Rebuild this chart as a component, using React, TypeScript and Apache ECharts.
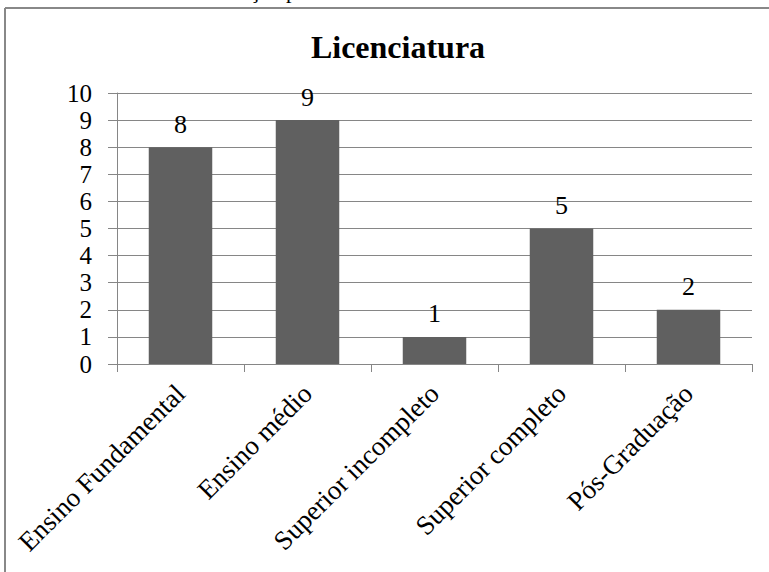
import React, { useEffect, useRef } from "react";
import * as echarts from "echarts";

const categories = [
  "Ensino Fundamental",
  "Ensino médio",
  "Superior incompleto",
  "Superior completo",
  "Pós-Graduação",
];
const values = [8, 9, 1, 5, 2];
const titleText = "Licenciatura";

const SERIF = '"Liberation Serif", "Times New Roman", serif';

export default function App() {
  const ref = useRef<HTMLDivElement>(null);
  useEffect(() => {
    if (!ref.current) return;
    const chart = echarts.init(ref.current, undefined, { renderer: "svg" });
    chart.setOption({
      animation: false,
      backgroundColor: "#ffffff",
      title: {
        text: titleText,
        left: 393,
        textAlign: "center",
        top: 26,
        textStyle: {
          fontFamily: SERIF,
          fontSize: 32,
          fontWeight: "bold",
          color: "#000000",
        },
      },
      grid: { left: 117, right: 17, top: 93, bottom: 208, containLabel: false },
      xAxis: {
        type: "category",
        data: categories,
        boundaryGap: true,
        axisLine: { show: true, lineStyle: { color: "#868686", width: 1 } },
        axisTick: { show: true, length: 8, alignWithLabel: false, lineStyle: { color: "#868686" } },
        axisLabel: {
          rotate: 45,
          interval: 0,
          margin: 25,
          fontFamily: SERIF,
          fontSize: 27,
          color: "#000000",
        },
        splitLine: { show: false },
      },
      yAxis: {
        type: "value",
        min: 0,
        max: 10,
        interval: 1,
        axisLine: { show: true, lineStyle: { color: "#868686", width: 1 } },
        axisTick: { show: true, length: 9, inside: false, lineStyle: { color: "#868686" } },
        axisLabel: {
          margin: 25,
          fontFamily: SERIF,
          fontSize: 25,
          color: "#000000",
        },
        splitLine: { show: true, lineStyle: { color: "#868686", width: 1 } },
      },
      series: [
        {
          type: "bar",
          data: values,
          barWidth: "50%",
          itemStyle: { color: "#606060" },
          label: {
            show: true,
            position: "top",
            distance: 10,
            fontFamily: SERIF,
            fontSize: 26,
            color: "#000000",
          },
        },
      ],
      graphic: [
        {
          type: "line",
          shape: { x1: 5, y1: 8, x2: 769, y2: 8 },
          style: { stroke: "#888888", lineWidth: 2 },
          silent: true,
        },
        {
          type: "line",
          shape: { x1: 5, y1: 8, x2: 5, y2: 572 },
          style: { stroke: "#888888", lineWidth: 2 },
          silent: true,
        },
        {
          type: "text",
          x: 250,
          y: 1,
          style: {
            text: "ção p",
            fontFamily: SERIF,
            fontSize: 22,
            fill: "#000000",
            verticalAlign: "bottom",
          },
          silent: true,
        },
      ],
    });
    return () => chart.dispose();
  }, []);
  return (
    <div
      ref={ref}
      style={{ position: "fixed", left: 0, top: 0, width: 769, height: 572 }}
    />
  );
}
